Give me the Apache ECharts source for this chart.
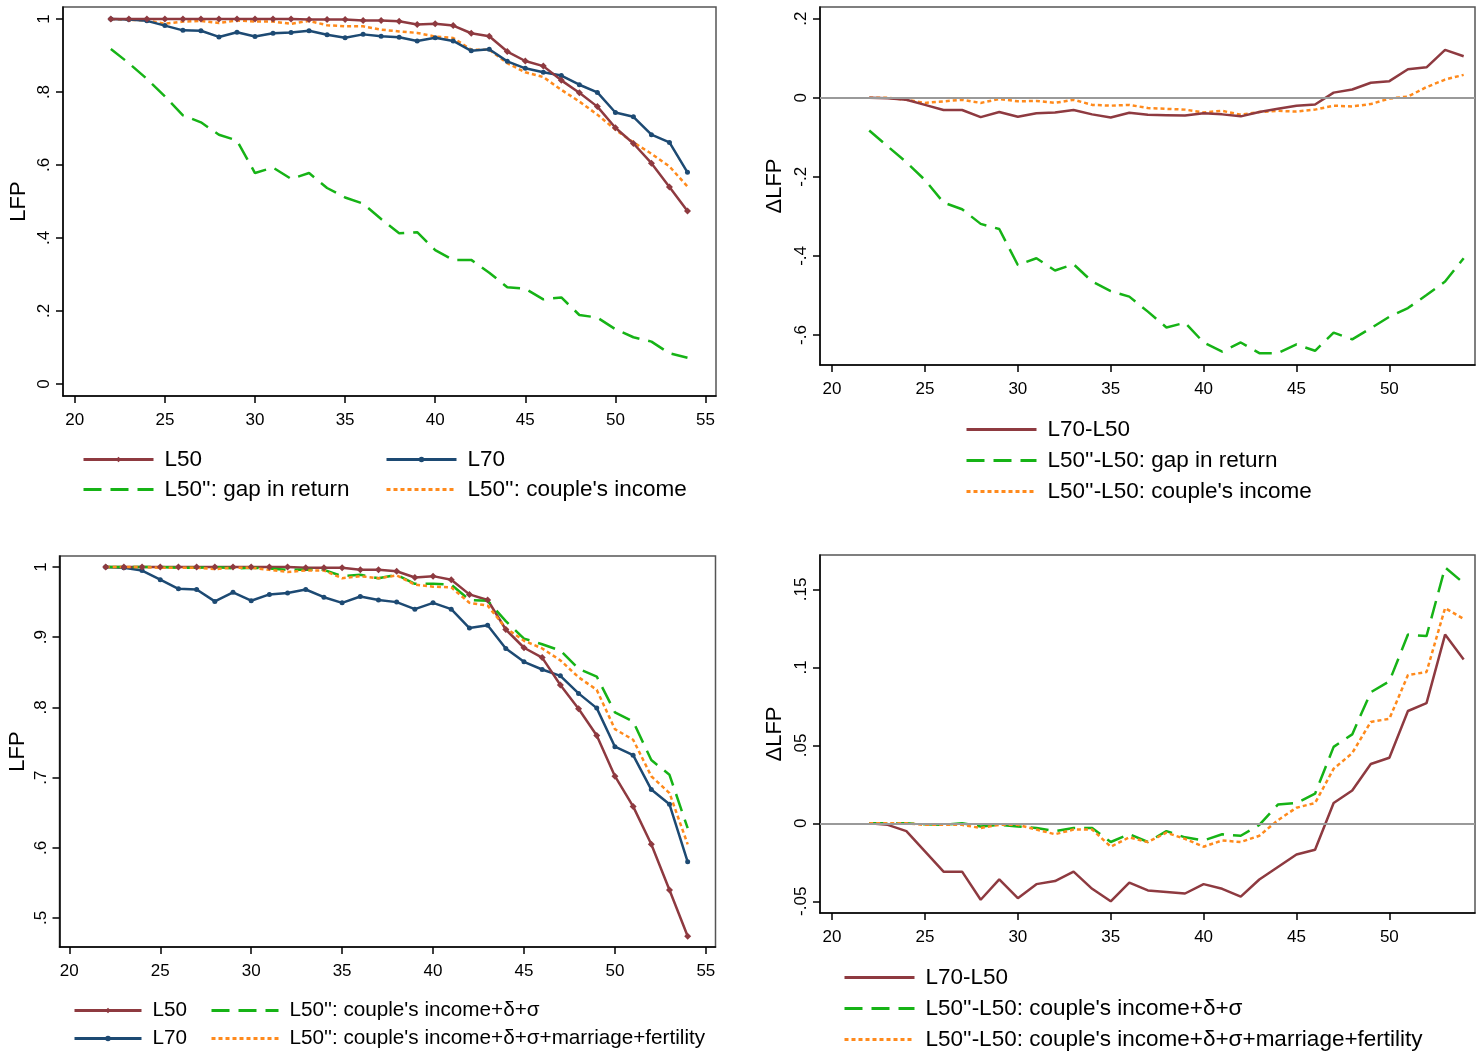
<!DOCTYPE html>
<html>
<head>
<meta charset="utf-8">
<script src="https://cdn.jsdelivr.net/npm/echarts@6/dist/echarts.min.js"></script>
<style>
  html, body { margin: 0; padding: 0; background: #fff; }
  #chart { width: 1480px; height: 1053px; }
</style>
</head>
<body>
<div id="chart"></div>
<script>
// ages on the x axis
const ages = [22, 23, 24, 25, 26, 27, 28, 29, 30, 31, 32, 33, 34, 35, 36, 37, 38,
  39, 40, 41, 42, 43, 44, 45, 46, 47, 48, 49, 50, 51, 52, 53, 54];

// levels (top-left and bottom-left panels)
const l50 = [1.000, 1.000, 1.000, 1.000, 1.000, 1.000, 1.000, 1.000, 1.000, 1.000, 1.000,
  0.999, 0.999, 0.999, 0.996, 0.996, 0.994, 0.985, 0.987, 0.982, 0.961, 0.953, 0.911,
  0.885, 0.871, 0.832, 0.798, 0.760, 0.702, 0.659, 0.605, 0.540, 0.474];
const l70 = [1.000, 0.999, 0.995, 0.982, 0.969, 0.968, 0.951, 0.964, 0.952, 0.961, 0.963,
  0.968, 0.957, 0.949, 0.958, 0.953, 0.950, 0.940, 0.949, 0.940, 0.913, 0.917, 0.884,
  0.865, 0.854, 0.845, 0.820, 0.799, 0.744, 0.732, 0.683, 0.662, 0.580];
const l50GapReturn = [0.918, 0.879, 0.836, 0.788, 0.736, 0.717, 0.683, 0.667, 0.578, 0.593,
  0.562, 0.578, 0.537, 0.511, 0.494, 0.452, 0.413, 0.416, 0.367, 0.340, 0.340, 0.305,
  0.265, 0.261, 0.232, 0.237, 0.189, 0.182, 0.150, 0.128, 0.116, 0.084, 0.072];
const l50Couple = [1.000, 0.998, 0.996, 0.987, 0.993, 0.995, 0.989, 0.996, 0.993, 0.993,
  0.987, 0.995, 0.983, 0.980, 0.980, 0.971, 0.966, 0.962, 0.952, 0.948, 0.916, 0.916,
  0.879, 0.854, 0.841, 0.806, 0.774, 0.738, 0.697, 0.662, 0.631, 0.596, 0.541];
const l50CoupleDS = [1.000, 1.000, 1.000, 1.000, 0.999, 0.999, 1.000, 0.998, 0.999, 0.998,
  0.996, 0.996, 0.996, 0.987, 0.989, 0.984, 0.989, 0.976, 0.976, 0.975, 0.953, 0.952,
  0.923, 0.898, 0.890, 0.881, 0.855, 0.844, 0.793, 0.780, 0.725, 0.704, 0.628];
const l50CoupleDSMF = [1.000, 1.000, 1.000, 0.999, 0.999, 0.999, 0.997, 0.999, 0.999, 0.996,
  0.993, 0.995, 0.995, 0.984, 0.987, 0.984, 0.988, 0.975, 0.972, 0.971, 0.949, 0.945,
  0.913, 0.895, 0.884, 0.867, 0.843, 0.825, 0.769, 0.754, 0.702, 0.678, 0.605];

// differences (right panels)
const d70 = [0, -0.001, -0.005, -0.018, -0.031, -0.031, -0.049, -0.036, -0.048, -0.039,
  -0.037, -0.031, -0.042, -0.050, -0.038, -0.043, -0.044, -0.045, -0.039, -0.042, -0.047,
  -0.036, -0.028, -0.020, -0.017, 0.013, 0.021, 0.038, 0.042, 0.072, 0.077, 0.121, 0.105];
const dGapReturn = [-0.083, -0.123, -0.163, -0.208, -0.265, -0.282, -0.319, -0.332, -0.423,
  -0.406, -0.437, -0.421, -0.465, -0.489, -0.503, -0.541, -0.581, -0.569, -0.619, -0.642,
  -0.619, -0.646, -0.646, -0.624, -0.640, -0.594, -0.611, -0.583, -0.554, -0.532, -0.499,
  -0.465, -0.406];
const dCouple = [0, 0, -0.005, -0.013, -0.009, -0.005, -0.013, -0.003, -0.009, -0.008,
  -0.013, -0.005, -0.018, -0.020, -0.018, -0.026, -0.028, -0.030, -0.037, -0.033, -0.043,
  -0.036, -0.033, -0.035, -0.030, -0.020, -0.022, -0.016, -0.002, 0.003, 0.027, 0.046, 0.058];
const dCoupleDS = [0, 0, 0, -0.0006, -0.001, 0, -0.002, -0.001, -0.002, -0.003, -0.005,
  -0.003, -0.003, -0.012, -0.007, -0.012, -0.005, -0.009, -0.011, -0.007, -0.008, -0.001,
  0.012, 0.013, 0.019, 0.049, 0.057, 0.084, 0.091, 0.121, 0.120, 0.164, 0.154];
const dCoupleDSMF = [0, 0, 0, -0.001, -0.001, -0.001, -0.003, -0.001, -0.001, -0.004, -0.007,
  -0.004, -0.004, -0.015, -0.009, -0.012, -0.006, -0.010, -0.015, -0.011, -0.012, -0.008,
  0.002, 0.010, 0.013, 0.035, 0.045, 0.065, 0.067, 0.095, 0.097, 0.138, 0.131];

// tick positions
const xTicksLeft = [20, 25, 30, 35, 40, 45, 50, 55];
const xTicksRight = [20, 25, 30, 35, 40, 45, 50];
const yTicks1 = [0, 0.2, 0.4, 0.6, 0.8, 1];
const yTicks2 = [-0.6, -0.4, -0.2, 0, 0.2];
const yTicks3 = [0.5, 0.6, 0.7, 0.8, 0.9, 1];
const yTicks4 = [-0.05, 0, 0.05, 0.1, 0.15];

const FONT = '"Liberation Sans", Arial, sans-serif';
const RED = '#8e3a40';
const BLUE = '#1d4a73';
const GREEN = '#16b316';
const ORANGE = '#ff8a1c';

const chart = echarts.init(document.getElementById('chart'), null, { renderer: 'canvas' });

// stata style: ".8", "-.2"
const stataNum = v => String(+v.toFixed(3)).replace('0.', '.');

function xAxis(gridIndex, min, max, ticks) {
  return {
    type: 'value', gridIndex, min, max,
    axisLine: { show: true, onZero: false, lineStyle: { color: '#000', width: 1.5 } },
    axisTick: { show: true, length: 7, customValues: ticks, lineStyle: { color: '#000', width: 1.5 } },
    axisLabel: { customValues: ticks, margin: 16, fontSize: 17, color: '#000', fontFamily: FONT },
    splitLine: { show: false }
  };
}

function yAxis(gridIndex, min, max, ticks, name, gap) {
  return {
    type: 'value', gridIndex, min, max,
    name, nameLocation: 'middle', nameGap: gap,
    nameTextStyle: { fontSize: 22, color: '#000', fontFamily: FONT },
    axisLine: { show: true, onZero: false, lineStyle: { color: '#000', width: 1.5 } },
    axisTick: { show: true, length: 7, customValues: ticks, lineStyle: { color: '#000', width: 1.5 } },
    axisLabel: {
      customValues: ticks, rotate: 90, margin: 10, fontSize: 17, color: '#000',
      fontFamily: FONT, formatter: stataNum
    },
    splitLine: { show: false }
  };
}

const pairs = vals => ages.map((a, i) => [a, vals[i]]);

function line(name, vals, idx, color, type, marker) {
  const s = {
    name, type: 'line', xAxisIndex: idx, yAxisIndex: idx,
    data: pairs(vals),
    lineStyle: { color, width: 2.5, type },
    itemStyle: { color },
    symbol: 'none',
    z: 3
  };
  if (marker) {
    s.symbol = marker;
    s.symbolSize = marker === 'diamond' ? 7 : 5;
    s.showSymbol = true;
  }
  return s;
}

function zeroLine(idx) {
  return {
    type: 'line', xAxisIndex: idx, yAxisIndex: idx, data: [], z: 1,
    markLine: {
      silent: true, symbol: 'none', label: { show: false },
      lineStyle: { color: '#9a9a9a', width: 2, type: 'solid' },
      data: [{ yAxis: 0 }]
    }
  };
}

const N_GAP = 'L50\'\': gap in return';
const N_COUPLE = 'L50\'\': couple\'s income';
const N_DGAP = 'L50\'\'-L50: gap in return';
const N_DCOUPLE = 'L50\'\'-L50: couple\'s income';
const N_DS = 'L50\'\': couple\'s income+δ+σ';
const N_DSMF = 'L50\'\': couple\'s income+δ+σ+marriage+fertility';
const N_DDS = 'L50\'\'-L50: couple\'s income+δ+σ';
const N_DDSMF = 'L50\'\'-L50: couple\'s income+δ+σ+marriage+fertility';

const DASH = [18, 9];
const DOT = [4, 3];

// legend entries: plain lines hide the symbol, marked lines keep a small one
const plain = name => ({ name, itemStyle: { opacity: 0 }, lineStyle: { width: 3 } });
const marked = name => ({ name, lineStyle: { width: 3 } });

function legend(left, top, data, fontSize, itemWidth, itemGap) {
  return {
    orient: 'vertical', padding: 0, left, top, data,
    itemWidth, itemHeight: 7, itemGap,
    selectedMode: false,
    textStyle: { fontSize, color: '#000', fontFamily: FONT, padding: [0, 0, 0, 6] }
  };
}

const option = {
  animation: false,
  backgroundColor: '#fff',
  grid: [
    { left: 63, top: 7, width: 653, height: 389, show: true, borderColor: '#555', borderWidth: 1.5 },
    { left: 820, top: 7, width: 655, height: 358, show: true, borderColor: '#555', borderWidth: 1.5 },
    { left: 59.5, top: 556, width: 656, height: 391, show: true, borderColor: '#555', borderWidth: 1.5 },
    { left: 820, top: 555, width: 655, height: 358, show: true, borderColor: '#555', borderWidth: 1.5 }
  ],
  xAxis: [
    xAxis(0, 19.345, 55.583, xTicksLeft),
    xAxis(1, 19.35, 54.61, xTicksRight),
    xAxis(2, 19.46, 55.53, xTicksLeft),
    xAxis(3, 19.35, 54.61, xTicksRight)
  ],
  yAxis: [
    yAxis(0, -0.033, 1.033, yTicks1, 'LFP', 33),
    yAxis(1, -0.676, 0.2296, yTicks2, 'ΔLFP', 34),
    yAxis(2, 0.4587, 1.0157, yTicks3, 'LFP', 31),
    yAxis(3, -0.0575, 0.172, yTicks4, 'ΔLFP', 34)
  ],
  legend: [
    legend(82, 448, [marked('L50'), plain(N_GAP)], 22.5, 70, 7),
    legend(385, 448, [marked('L70'), plain(N_COUPLE)], 22.5, 70, 7),
    legend(965, 418, [plain('L70-L50'), plain(N_DGAP), plain(N_DCOUPLE)], 22.5, 70, 8),
    legend(73, 1000, [marked('L50'), marked('L70')], 20.7, 67, 7),
    legend(210, 1000, [plain(N_DS), plain(N_DSMF)], 20.7, 67, 7),
    legend(843, 966, [plain('L70-L50'), plain(N_DDS), plain(N_DDSMF)], 22.5, 70, 8)
  ],
  series: [
    // top-left
    line(N_GAP, l50GapReturn, 0, GREEN, DASH),
    line(N_COUPLE, l50Couple, 0, ORANGE, DOT),
    line('L70', l70, 0, BLUE, 'solid', 'circle'),
    line('L50', l50, 0, RED, 'solid', 'diamond'),
    // top-right
    zeroLine(1),
    line(N_DGAP, dGapReturn, 1, GREEN, DASH),
    line(N_DCOUPLE, dCouple, 1, ORANGE, DOT),
    line('L70-L50', d70, 1, RED, 'solid'),
    // bottom-left
    line('L70', l70, 2, BLUE, 'solid', 'circle'),
    line('L50', l50, 2, RED, 'solid', 'diamond'),
    line(N_DS, l50CoupleDS, 2, GREEN, DASH),
    line(N_DSMF, l50CoupleDSMF, 2, ORANGE, DOT),
    // bottom-right
    zeroLine(3),
    line('L70-L50', d70, 3, RED, 'solid'),
    line(N_DDS, dCoupleDS, 3, GREEN, DASH),
    line(N_DDSMF, dCoupleDSMF, 3, ORANGE, DOT)
  ]
};

chart.setOption(option);
</script>
</body>
</html>
